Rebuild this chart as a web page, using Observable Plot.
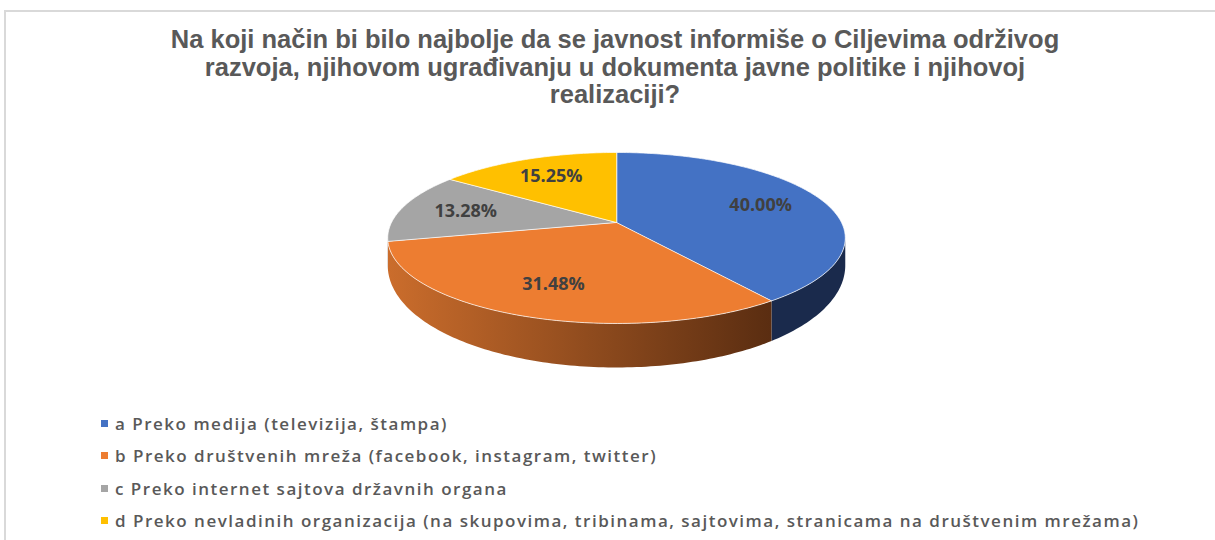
<!DOCTYPE html>
<html>
<head>
<meta charset="utf-8">
<script src="https://cdn.jsdelivr.net/npm/d3@7"></script>
<script src="https://cdn.jsdelivr.net/npm/@observablehq/plot@0.6"></script>
<style>
  html, body { margin: 0; padding: 0; background: #fff; }
  #page { position: relative; width: 1215px; height: 540px; overflow: hidden; }
  #frame { position: absolute; left: 4px; top: 10px; right: -10px; bottom: -10px;
           border-left: 2px solid #d9d9d9; border-top: 2px solid #d9d9d9; }
  #title { position: absolute; left: 0; width: 1230px; top: 26px; text-align: center;
           font-family: "Liberation Sans Narrow", "Liberation Sans", sans-serif; font-weight: bold;
           font-size: 25.5px; line-height: 27.5px; color: #595959; }
  #chart { position: absolute; left: 0; top: 130px; }
  #legend { position: absolute; left: 101px; top: 407px; font-family: "Open Sans", sans-serif;
            font-size: 17px; letter-spacing: 1.5px; color: #595959; font-weight: 600; }
  .row { display: flex; align-items: center; height: 32.5px; white-space: nowrap; }
  .sw { width: 7px; height: 7px; margin-right: 7px; flex: none; }
</style>
</head>
<body>
<div id="page">
  <div id="frame"></div>
  <div id="title"></div>
  <div id="chart"></div>
  <div id="legend"></div>
</div>
<script>
const titleLines = [
  "Na koji način bi bilo najbolje da se javnost informiše o Ciljevima održivog",
  "razvoja, njihovom ugrađivanju u dokumenta javne politike i njihovoj",
  "realizaciji?"
];
const categories = [
  "a Preko medija (televizija, štampa)",
  "b Preko društvenih mreža (facebook, instagram, twitter)",
  "c Preko internet sajtova državnih organa",
  "d Preko nevladinih organizacija (na skupovima, tribinama, sajtovima, stranicama na društvenim mrežama)"
];
const values = [40.00, 31.48, 13.28, 15.25];

// styles
const colors = ["#4472C4", "#ED7D31", "#A5A5A5", "#FFC000"];
const wallLight = ["#1F3056", "#CB6D2C", "#7C7C7C", "#BF9000"];
const wallDark  = ["#1A2A4C", "#5A2D11", "#555555", "#806000"];

// title
d3.select("#title").html(titleLines.join("<br>"));

// legend
const lg = d3.select("#legend");
categories.forEach((c, i) => {
  const r = lg.append("div").attr("class", "row");
  r.append("span").attr("class", "sw").style("background", colors[i]);
  r.append("span").text(c);
});

// 3D pie geometry (perspective tilt)
const K = 0.181;           // perspective factor
const RY = 82.7;           // px of y unit
const proj = (theta, r) => {
  const u = r * Math.sin(theta), v = -r * Math.cos(theta);
  const s = 1 / (1 - K * v);
  return {x: u * s, y: v * s, v};
};
const depth = v => (23.5 + 20.5 * v) / RY;
const SIL = K - 0.01;      // front-facing limit of the side wall

const arcs = d3.pie().sort(null).value(d => d)(values);
const step = Math.PI / 180;

const topPts = [];
const wallPts = [];
arcs.forEach((a, i) => {
  const n = Math.max(2, Math.ceil((a.endAngle - a.startAngle) / step));
  const id = "top" + i;
  const c0 = proj(0, 0);
  topPts.push({id, x: c0.x, y: c0.y, c: colors[i]});
  const rim = [];
  for (let j = 0; j <= n; j++) {
    const t = a.startAngle + (a.endAngle - a.startAngle) * j / n;
    const p = proj(t, 1);
    topPts.push({id, x: p.x, y: p.y, c: colors[i]});
    if (p.v >= SIL) rim.push(p);
  }
  if (rim.length > 1) {
    const wid = "wall" + i;
    const fill = "url(#wg" + i + ")";
    rim.forEach(p => wallPts.push({id: wid, x: p.x, y: p.y, c: fill}));
    rim.slice().reverse().forEach(p => wallPts.push({id: wid, x: p.x, y: p.y + depth(p.v), c: fill}));
  }
});

const labels = arcs.map((a, i) => {
  const p = proj((a.startAngle + a.endAngle) / 2, 0.7);
  return {x: p.x, y: p.y, text: values[i].toFixed(2) + "%"};
});

const svgTop = 130, cy = 222 - svgTop;
const chart = Plot.plot({
  width: 1215,
  height: 260,
  margin: 0,
  x: {domain: [-1, 1], range: [391, 841], axis: null},
  y: {domain: [-1, 1], range: [cy - RY, cy + RY], axis: null},
  color: {type: "identity"},
  marks: [
    Plot.line(wallPts, {x: "x", y: "y", z: "id", fill: "c", stroke: "none", curve: "linear-closed"}),
    Plot.line(topPts, {x: "x", y: "y", z: "id", fill: "c", stroke: "#ffffff", strokeOpacity: 0.7, strokeWidth: 1, curve: "linear-closed"}),
    Plot.text(labels, {x: "x", y: "y", text: "text", fontSize: 18, fontWeight: "bold", fill: "#404040",
      fontFamily: "Open Sans, sans-serif"})
  ]
});
// gradients for the side walls (horizontal, in pixel space)
const xs = chart.scale("x");
const defs = d3.select(chart).insert("defs", ":first-child");
colors.forEach((c, i) => {
  const g = defs.append("linearGradient").attr("id", "wg" + i)
    .attr("gradientUnits", "userSpaceOnUse")
    .attr("x1", xs.apply(-1.02)).attr("x2", xs.apply(0.69)).attr("y1", 0).attr("y2", 0);
  g.append("stop").attr("offset", 0).attr("stop-color", wallLight[i]);
  g.append("stop").attr("offset", 1).attr("stop-color", wallDark[i]);
});
document.getElementById("chart").appendChild(chart);
</script>
</body>
</html>
